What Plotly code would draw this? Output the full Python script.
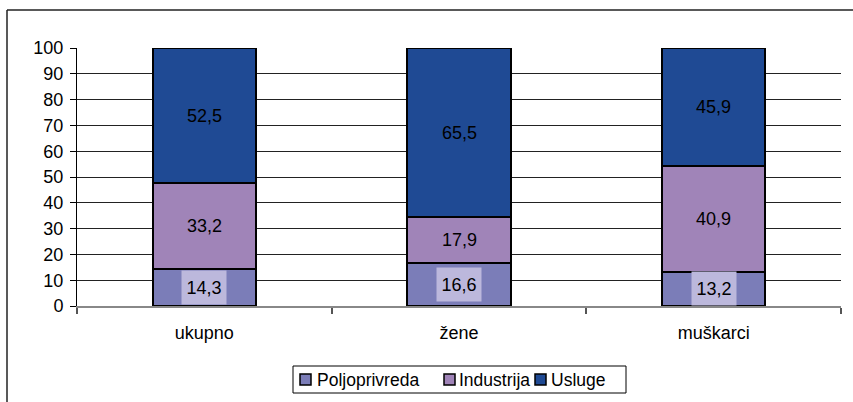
import plotly.graph_objects as go

# Employment structure by sector (%)
categories = ["ukupno", "žene", "muškarci"]
poljoprivreda = [14.3, 16.6, 13.2]
industrija = [33.2, 17.9, 40.9]
usluge = [52.5, 65.5, 45.9]

y_ticks = list(range(0, 101, 10))

series = [
    ("Poljoprivreda", poljoprivreda, "#7B7DB8"),
    ("Industrija", industrija, "#A084B8"),
    ("Usluge", usluge, "#1F4A94"),
]

FONT = "Liberation Sans, Arial, sans-serif"

# plot area in pixels (used to place the frame and the legend box)
L, R, T, B = 77, 841, 48, 306
W, H = R - L, B - T


def px(x):
    return (x - L) / W


def py(y):
    return (B - y) / H


fig = go.Figure()
for name, vals, color in series:
    fig.add_trace(go.Bar(
        name=name, x=categories, y=vals,
        marker=dict(color=color, line=dict(color="#000000", width=2)),
        width=0.405, showlegend=False,
    ))


def fmt(v):
    return f"{v:.1f}".replace(".", ",")


# Value labels centred in each stacked segment
annotations = []
for i, cat in enumerate(categories):
    base = 0.0
    for name, vals, color in series:
        v = vals[i]
        mid = base + v / 2
        ann = dict(x=cat, y=mid, xref="x", yref="y", text=fmt(v), showarrow=False,
                   font=dict(family=FONT, size=18, color="#000000"))
        if name == "Poljoprivreda":
            ann.update(bgcolor="#BCB8DC", width=42, height=31)
        annotations.append(ann)
        base += v

shapes = [
    # outer chart frame (left and top edges)
    dict(type="line", xref="paper", yref="paper", x0=px(7), x1=px(7),
         y0=py(410), y1=py(10), line=dict(color="#222222", width=1.5)),
    dict(type="line", xref="paper", yref="paper", x0=px(7), x1=px(860),
         y0=py(10), y1=py(10), line=dict(color="#222222", width=1.5)),
    # legend box
    dict(type="rect", xref="paper", yref="paper", x0=px(293), x1=px(626),
         y0=py(393), y1=py(366), line=dict(color="#000000", width=1),
         fillcolor="#FFFFFF", layer="above"),
]

# compact legend: swatch + label for each series
legend_x = [(300, 315), (444, 457), (535, 549)]
legend_cy = 379.5
for (sx, tx), (name, vals, color) in zip(legend_x, series):
    shapes.append(dict(type="rect", xref="paper", yref="paper",
                       x0=px(sx), x1=px(sx + 11), y0=py(legend_cy + 5.5), y1=py(legend_cy - 5.5),
                       fillcolor=color, line=dict(color="#000000", width=1.5), layer="above"))
    annotations.append(dict(x=px(tx), y=py(legend_cy), xref="paper", yref="paper",
                            xanchor="left", yanchor="middle", text=name, showarrow=False,
                            font=dict(family=FONT, size=17.5, color="#000000")))

fig.update_layout(
    width=853, height=402,
    margin=dict(l=L, r=853 - R, t=T, b=402 - B, autoexpand=False),
    paper_bgcolor="#FFFFFF", plot_bgcolor="#FFFFFF",
    barmode="stack",
    font=dict(family=FONT, size=18, color="#000000"),
    showlegend=False,
    annotations=annotations,
    shapes=shapes,
)

fig.update_xaxes(
    type="category", showgrid=False, showline=True, linecolor="#888888", linewidth=2,
    ticks="outside", tickson="boundaries", ticklen=6, tickcolor="#555555", tickwidth=2,
    ticklabelstandoff=9, tickfont=dict(family=FONT, size=18),
)
fig.update_yaxes(
    range=[0, 100], tickvals=y_ticks, ticktext=[str(t) for t in y_ticks],
    showgrid=True, gridcolor="#222222", gridwidth=1,
    showline=True, linecolor="#000000", linewidth=1,
    ticks="outside", ticklen=6, tickcolor="#000000", ticklabelstandoff=3,
    zeroline=False, tickfont=dict(family=FONT, size=18),
)

fig.write_html("out.html")
